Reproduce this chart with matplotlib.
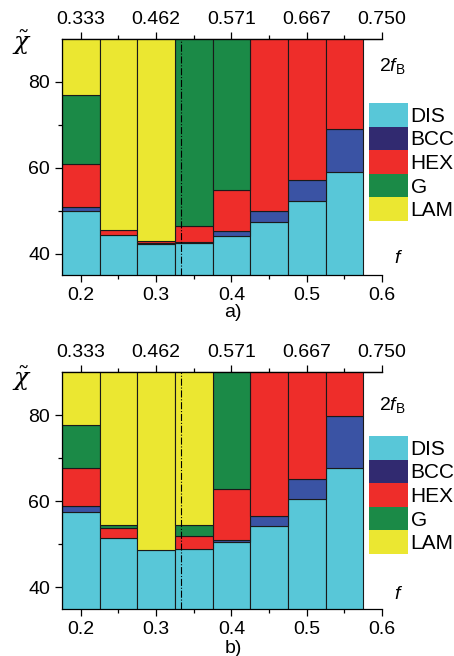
"""
Phase diagram bars: chi~ vs f for two systems, stacked phase regions.
"""
import matplotlib.pyplot as plt
from matplotlib.patches import Patch

plt.rcParams['font.family'] = ['Liberation Sans', 'DejaVu Sans']
plt.rcParams['mathtext.fontset'] = 'custom'
plt.rcParams['mathtext.rm'] = 'Liberation Sans'
plt.rcParams['mathtext.it'] = 'Liberation Sans:italic'

# composition (bar centres) and tick labels
f = [0.2, 0.25, 0.3, 0.35, 0.4, 0.45, 0.5, 0.55]
f_ticks = [0.2, 0.3, 0.4, 0.5, 0.6]
top_labels = ['0.333', '0.462', '0.571', '0.667', '0.750']
f_sym = 1 / 3

phases = ['DIS', 'BCC', 'HEX', 'G', 'LAM']
bar_colors = ['#58C7D8', '#3A53A4', '#EE2D2A', '#1B8A47', '#EBE731']
legend_colors = ['#58C7D8', '#312A70', '#EE2D2A', '#1B8A47', '#EBE731']

# upper chi~ boundary of each phase region, panel a)
dis_a = [50.0, 44.3, 42.1, 42.4, 44.1, 47.4, 52.3, 58.9]
bcc_a = [50.8, 44.3, 42.4, 42.6, 45.3, 49.8, 57.2, 68.9]
hex_a = [60.9, 45.5, 43.0, 46.4, 54.9, 90, 90, 90]
g_a = [77.0, 45.5, 43.0, 90, 90, 90, 90, 90]
lam_a = [90, 90, 90, 90, 90, 90, 90, 90]

# panel b)
dis_b = [57.6, 51.4, 48.8, 48.9, 50.6, 54.3, 60.6, 67.7]
bcc_b = [58.8, 51.4, 48.8, 48.9, 51.1, 56.6, 65.2, 79.9]
hex_b = [67.8, 53.8, 48.8, 52.0, 62.9, 90, 90, 90]
g_b = [77.8, 54.5, 48.8, 54.5, 90, 90, 90, 90]
lam_b = [90, 90, 90, 90, 90, 90, 90, 90]

fig = plt.figure(figsize=(4.54, 6.56), dpi=100)
ax_a = fig.add_axes([0.1366, 0.5808, 0.7048, 0.3602])
ax_b = fig.add_axes([0.1366, 0.0716, 0.7048, 0.3613])

panels = [
    (ax_a, [dis_a, bcc_a, hex_a, g_a, lam_a], 'a)', 0.5366, 0.843, 0.606, 0.9),
    (ax_b, [dis_b, bcc_b, hex_b, g_b, lam_b], 'b)', 0.024, 0.3354, 0.093, 0.382),
]

for ax, bounds, tag, tag_y, leg_y, f_y, fb_y in panels:
    lower = [0] * len(f)
    for name, upper, col in zip(phases, bounds, bar_colors):
        for x, lo, hi in zip(f, lower, upper):
            if hi - lo > 0:
                ax.bar(x, hi - lo, bottom=lo, width=0.05, color=col,
                       edgecolor='#1a1a1a', linewidth=0.8, zorder=2)
        lower = upper

    ax.axvline(f_sym, color='black', linestyle='-.', linewidth=0.8, zorder=3)

    ax.set_xlim(0.175, 0.6)
    ax.set_ylim(35, 90)
    ax.set_xticks(f_ticks)
    ax.set_xticks([0.25, 0.35, 0.45, 0.55], minor=True)
    ax.set_yticks([40, 60, 80])
    ax.set_yticks([50, 70], minor=True)
    ax.tick_params(labelsize=14, length=5, width=0.9, direction='out', pad=3.5)
    ax.tick_params(which='minor', length=3, width=0.9, direction='out')
    ax.spines['right'].set_visible(False)
    for s in ['left', 'bottom', 'top']:
        ax.spines[s].set_linewidth(0.9)

    sec = ax.secondary_xaxis('top')
    sec.set_xticks(f_ticks, labels=top_labels)
    sec.set_xticks([0.25, 0.35, 0.45, 0.55], minor=True)
    sec.tick_params(labelsize=14, length=5, width=0.9, direction='out', pad=3)
    sec.tick_params(which='minor', length=3, width=0.9, direction='out')
    sec.spines['top'].set_linewidth(0.9)

    handles = [Patch(facecolor=c, edgecolor='none', label=p)
               for p, c in zip(phases, legend_colors)]
    fig.legend(handles=handles, loc='upper left', bbox_to_anchor=(0.8128, leg_y),
               bbox_transform=fig.transFigure, frameon=False, fontsize=15,
               borderpad=0, borderaxespad=0, labelspacing=0,
               handlelength=1.875, handleheight=1.366, handletextpad=0.12)

    fig.text(0.5132, tag_y, tag, ha='center', va='top', fontsize=14)
    fig.text(0.877, f_y, r'$f$', ha='center', va='center', fontsize=14)
    fig.text(0.835, fb_y, r'$2f_{\rm B}$', ha='left', va='center', fontsize=14)

fig.text(0.048, 0.934, r'$\tilde{\chi}$', ha='center', va='center', fontsize=18,
         family='DejaVu Serif', math_fontfamily='dejavuserif')
fig.text(0.048, 0.423, r'$\tilde{\chi}$', ha='center', va='center', fontsize=18,
         family='DejaVu Serif', math_fontfamily='dejavuserif')

fig.savefig('out.png', dpi=100, facecolor='white')
